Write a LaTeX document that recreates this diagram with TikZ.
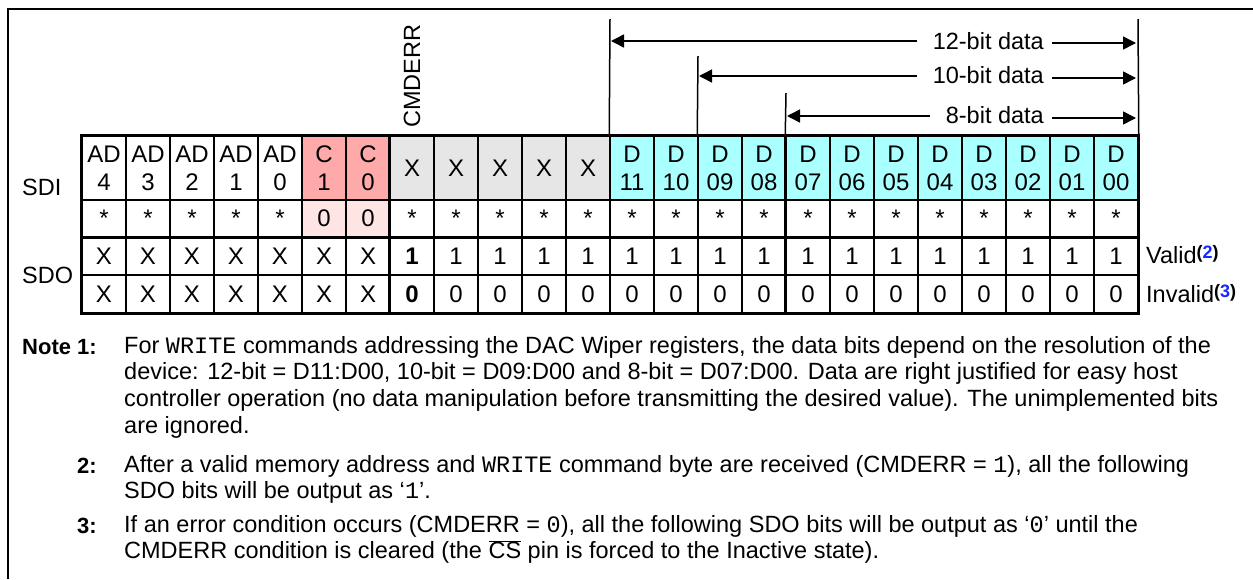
\documentclass[tikz,border=0pt]{standalone}
\usepackage{fontspec}
\setmainfont{Liberation Sans}
\setmonofont{Liberation Mono}
\usetikzlibrary{arrows.meta}
\definecolor{hpink}{RGB}{255,170,170}
\definecolor{lpink}{RGB}{255,228,228}
\definecolor{cgray}{RGB}{230,230,230}
\definecolor{ccyan}{RGB}{170,255,255}
\definecolor{refblue}{RGB}{20,40,255}
\begin{document}
\begin{tikzpicture}[x=1pt,y=-1pt,
  cell/.style={draw=black, line width=1.5pt, minimum width=44pt, minimum height=#1, inner sep=0pt, align=center, font=\fontsize{24}{28}\selectfont},
  lbl/.style={inner sep=0pt, font=\fontsize{23.5}{26}\selectfont},
  dimlbl/.style={inner sep=0pt, font=\fontsize{23.5}{26}\selectfont},
  note/.style={inner sep=0pt, anchor=west, font=\fontsize{23.5}{26}\selectfont},
  notenum/.style={inner sep=0pt, font=\fontsize{22}{26}\selectfont\bfseries},
  dim/.style={line width=1.5pt},
  dimarrow/.style={line width=1.5pt, -{Triangle[length=13pt,width=13pt]}},
  thick line/.style={line width=3pt}]
\useasboundingbox (0,0) rectangle (1253,579);
% frame
\draw[line width=2.5pt] (8,579) -- (8,9) -- (1253,9);
% header row
\foreach \t [count=\i from 0] in {{AD\\4},{AD\\3},{AD\\2},{AD\\1},{AD\\0}}
  \node[cell=64pt, fill=white] (h\i) at ({104+44*\i},168) {\t};
\foreach \t [count=\i from 5] in {{C\\1},{C\\0}}
  \node[cell=64pt, fill=hpink] (h\i) at ({104+44*\i},168) {\t};
\foreach \i in {7,...,11}
  \node[cell=64pt, fill=cgray] (h\i) at ({104+44*\i},168) {X};
\foreach \t [count=\i from 12] in {{D\\11},{D\\10},{D\\09},{D\\08},{D\\07},{D\\06},{D\\05},{D\\04},{D\\03},{D\\02},{D\\01},{D\\00}}
  \node[cell=64pt, fill=ccyan] (h\i) at ({104+44*\i},168) {\t};
% star row
\foreach \i in {0,...,4,7,8,...,23}
  \node[cell=37pt, fill=white] (s\i) at ({104+44*\i},218.5) {*};
\foreach \i in {5,6}
  \node[cell=37pt, fill=lpink] (s\i) at ({104+44*\i},218.5) {0};
% SDO rows
\foreach \i in {0,...,6}{
  \node[cell=38pt] (v\i) at ({104+44*\i},256) {X};
  \node[cell=38pt] (n\i) at ({104+44*\i},294) {X};
}
\node[cell=38pt] (v7) at ({104+44*7},256) {\textbf{1}};
\node[cell=38pt] (n7) at ({104+44*7},294) {\textbf{0}};
\foreach \i in {8,...,23}{
  \node[cell=38pt] (v\i) at ({104+44*\i},256) {1};
  \node[cell=38pt] (n\i) at ({104+44*\i},294) {0};
}
% thick lines
\draw[thick line] (h0.north west) rectangle (n23.south east);
\draw[thick line] (s0.south west) -- (s23.south east);
\draw[thick line] (h7.north west) -- (n7.south west);
\draw[thick line] (h16.north west) -- (n16.south west);
% row labels
\node[lbl, anchor=west] (sdi) at (22,187) {SDI};
\node[lbl, anchor=west] (sdo) at (22,275) {SDO};
\node[lbl, anchor=west] (valid) at (1146,255) {Valid\raisebox{5pt}{\fontsize{18}{18}\selectfont\bfseries(\textcolor{refblue}{2})}};
\node[lbl, anchor=west] (invalid) at (1146,294) {Invalid\raisebox{5pt}{\fontsize{18}{18}\selectfont\bfseries(\textcolor{refblue}{3})}};
% CMDERR
\node[dimlbl, rotate=90, anchor=west] (cmderr) at (412,128) {CMDERR};
% dimension lines
\coordinate (v12t) at (610,19);
\coordinate (v12r) at (1138,19);
\coordinate (v10t) at (698,56);
\coordinate (v8t) at (786,93);
\draw[dim] (v12t) -- (h12.north west);
\draw[dim] (v12r) -- (h23.north east);
\draw[dim] (v10t) -- (h14.north west);
\draw[dim] (v8t) -- (h16.north west);
\node[dimlbl, anchor=east] (t12) at (1044,41) {12-bit data};
\node[dimlbl, anchor=east] (t10) at (1044,75) {10-bit data};
\node[dimlbl, anchor=east] (t8) at (1044,115) {8-bit data};
\coordinate (a12l) at (611,41);
\coordinate (a12r) at (1136,43);
\coordinate (a10l) at (699,76);
\coordinate (a10r) at (1136,78);
\coordinate (a8l) at (787,116);
\coordinate (a8r) at (1136,118);
\draw[dimarrow] ([xshift=-16pt]t12.west |- a12l) -- (a12l);
\draw[dimarrow] ([xshift=8pt]t12.east |- a12r) -- (a12r);
\draw[dimarrow] ([xshift=-16pt]t10.west |- a10l) -- (a10l);
\draw[dimarrow] ([xshift=8pt]t10.east |- a10r) -- (a10r);
\draw[dimarrow] ([xshift=-16pt]t8.west |- a8l) -- (a8l);
\draw[dimarrow] ([xshift=8pt]t8.east |- a8r) -- (a8r);
% notes
\node[notenum, anchor=west] (notew) at (22,347) {Note};
\node[notenum, anchor=east] (n1) at (97,347) {1:};
\node[note] (l1) at (124,347) {For \texttt{WRITE} commands addressing the DAC Wiper registers, the data bits depend on the resolution of the};
\node[note] (l2) at (124,373) {device: 12-bit = D11:D00, 10-bit = D09:D00 and 8-bit = D07:D00. Data are right justified for easy host};
\node[note] (l3) at (124,400) {controller operation (no data manipulation before transmitting the desired value). The unimplemented bits};
\node[note] (l4) at (124,427) {are ignored.};
\node[notenum, anchor=east] (n2) at (97,466) {2:};
\node[note] (l5) at (124,466) {After a valid memory address and \texttt{WRITE} command byte are received (CMDERR = \texttt{1}), all the following};
\node[note] (l6) at (124,492) {SDO bits will be output as ‘\texttt{1}’.};
\node[notenum, anchor=east] (n3) at (97,526) {3:};
\node[note] (l7) at (124,526) {If an error condition occurs (CMDERR = \texttt{0}), all the following SDO bits will be output as ‘\texttt{0}’ until the};
\node[note] (l8) at (124,552) {CMDERR condition is cleared (the $\overline{\mbox{CS}}$ pin is forced to the Inactive state).};
\end{tikzpicture}
\end{document}
